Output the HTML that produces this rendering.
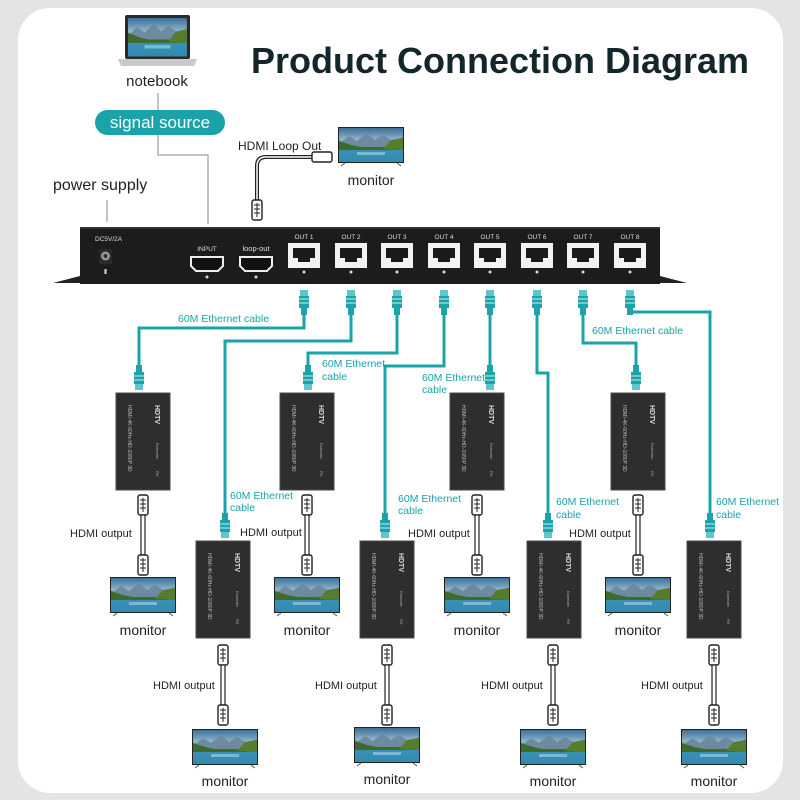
<!DOCTYPE html>
<html><head><meta charset="utf-8"><style>
html,body{margin:0;padding:0;background:#e4e4e4;}
svg{display:block;}
text{font-family:"Liberation Sans","DejaVu Sans",sans-serif;}
</style></head><body>
<svg width="800" height="800" viewBox="0 0 800 800" xmlns="http://www.w3.org/2000/svg">
<defs>
 <linearGradient id="sky" x1="0" y1="0" x2="0" y2="1">
  <stop offset="0" stop-color="#3f6f94"/><stop offset="0.35" stop-color="#8fb6cf"/>
  <stop offset="0.55" stop-color="#4f7a35"/><stop offset="0.7" stop-color="#2f8bb0"/><stop offset="1" stop-color="#1d5f86"/>
 </linearGradient>
 <g id="scr">
  <rect x="0" y="0" width="64" height="34" fill="url(#sky)"/>
  <polygon points="0,16 10,8 18,13 28,5 36,12 44,7 54,13 64,9 64,20 0,20" fill="#6e8a9e"/>
  <polygon points="0,20 0,13 12,17 22,19 64,19 64,22 0,22" fill="#3f6b2a"/>
  <polygon points="44,21 52,12 64,10 64,22" fill="#577d2c"/>
  <rect x="0" y="22" width="64" height="12" fill="#3b92b8" opacity="0.8"/>
  <rect x="18" y="24" width="28" height="3" fill="#9ccbe0" opacity="0.7"/>
 </g>
 <g id="mon">
  <rect x="-1" y="-1" width="66" height="36" fill="#222"/>
  <use href="#scr"/>
  <line x1="6" y1="35" x2="2" y2="38" stroke="#555" stroke-width="1"/>
  <line x1="58" y1="35" x2="62" y2="38" stroke="#555" stroke-width="1"/>
 </g>
 <g id="box">
  <rect x="0" y="0" width="54" height="97" fill="#2e2e2e" stroke="#4a4a4a"/>
  <text transform="translate(12,12) rotate(90)" font-size="5" fill="#bbb">HDMI-4K-60Hz-HD-1080P 3D</text>
  <text transform="translate(39,12) rotate(90)" font-size="7" font-weight="bold" fill="#ddd">HDTV</text>
  <text transform="translate(40,50) rotate(90)" font-size="4" fill="#aaa">Extender</text>
  <text transform="translate(40,78) rotate(90)" font-size="4" fill="#aaa">RX</text>
 </g>
 <g id="hconn">
  <rect x="-5" y="0" width="10" height="20" rx="2" fill="#fff" stroke="#222" stroke-width="1.4"/>
  <line x1="-3" y1="5" x2="3" y2="5" stroke="#222"/><line x1="-3" y1="9" x2="3" y2="9" stroke="#222"/>
  <line x1="-3" y1="13" x2="3" y2="13" stroke="#222"/><line x1="0" y1="3" x2="0" y2="17" stroke="#222"/>
 </g>
 <g id="hcable">
  <use href="#hconn" y="0"/>
  <rect x="-2" y="20" width="4" height="40" fill="#fff" stroke="#222" stroke-width="1.2"/>
  <use href="#hconn" y="60"/>
 </g>
 <g id="rj">
  <rect x="-4" y="0" width="8" height="6" fill="#5ac8cc"/>
  <rect x="-5" y="6" width="10" height="12" fill="#1aa3a8"/>
  <line x1="-5" y1="9" x2="5" y2="9" stroke="#fff" stroke-width="0.8"/>
  <line x1="-5" y1="13" x2="5" y2="13" stroke="#fff" stroke-width="0.8"/>
  <rect x="-3" y="18" width="6" height="7" fill="#1aa3a8"/>
 </g>
 <g id="rjup">
  <rect x="-3" y="0" width="6" height="7" fill="#1aa3a8"/>
  <rect x="-5" y="7" width="10" height="12" fill="#1aa3a8"/>
  <line x1="-5" y1="11" x2="5" y2="11" stroke="#fff" stroke-width="0.8"/>
  <line x1="-5" y1="15" x2="5" y2="15" stroke="#fff" stroke-width="0.8"/>
  <rect x="-4" y="19" width="8" height="6" fill="#5ac8cc"/>
 </g>
 <g id="port">
  <rect x="-16" y="0" width="32" height="25" fill="#f2f2f2"/>
  <path d="M-11,5 H11 V15 H6 V19 H-6 V15 H-11 Z" fill="#1a1a1a"/>
  <circle cx="0" cy="29" r="1.5" fill="#ddd"/>
 </g>
 <g id="hport">
  <path d="M-16,0 H16 V9 L11,14 H-11 L-16,9 Z" fill="#111" stroke="#eee" stroke-width="2"/>
  <circle cx="0" cy="20" r="1.5" fill="#ddd"/>
 </g>
</defs>

<rect x="18" y="8" width="765" height="785" rx="32" fill="#fff"/>

<text x="500" y="73" text-anchor="middle" font-size="36" font-weight="bold" fill="#13262a">Product Connection Diagram</text>

<!-- notebook -->
<rect x="125" y="15" width="65" height="44" rx="2" fill="#2a2a2a"/>
<use href="#scr" transform="translate(128,18) scale(0.92,1.13)"/>
<path d="M118,59 H197 L194,66 H121 Z" fill="#c9c9c9"/>
<text x="157" y="86" text-anchor="middle" font-size="15" fill="#222">notebook</text>
<line x1="158" y1="93" x2="158" y2="110" stroke="#888" stroke-width="1"/>
<rect x="95" y="110" width="130" height="25" rx="12.5" fill="#1aa3a8"/>
<text x="160" y="128" text-anchor="middle" font-size="17" fill="#fff">signal source</text>
<polyline points="158,135 158,155 208,155 208,224" fill="none" stroke="#888" stroke-width="1"/>
<text x="53" y="190" font-size="16" fill="#222">power supply</text>
<line x1="107" y1="200" x2="107" y2="222" stroke="#888" stroke-width="1"/>

<!-- loop out -->
<text x="238" y="150" font-size="12" fill="#222">HDMI Loop Out</text>
<path d="M312,157 H266 Q257,157 257,166 V200" fill="none" stroke="#222" stroke-width="4"/>
<path d="M312,157 H266 Q257,157 257,166 V200" fill="none" stroke="#fff" stroke-width="1.5"/>
<rect x="312" y="152" width="20" height="10" rx="2" fill="#fff" stroke="#222" stroke-width="1.4"/>
<use href="#hconn" x="257" y="200"/>
<use href="#mon" x="339" y="128"/>
<text x="371" y="185" text-anchor="middle" font-size="14" fill="#222">monitor</text>

<!-- splitter -->
<path d="M53,283 L80,276 V283 Z M660,276 L687,283 H660 Z" fill="#222"/>
<rect x="80" y="227" width="580" height="57" fill="#1c1c1e"/>
<rect x="80" y="227" width="580" height="2" fill="#333"/>
<text x="95" y="241" font-size="6.5" fill="#ddd">DC5V/2A</text>
<rect x="99" y="249" width="13" height="15" fill="#2a2a2a"/>
<circle cx="105.5" cy="256" r="4.5" fill="#999"/><circle cx="105.5" cy="256" r="2" fill="#333"/>
<rect x="104.5" y="269" width="2" height="5" fill="#ddd"/>
<text x="207" y="251" text-anchor="middle" font-size="6.5" fill="#ddd">INPUT</text>
<use href="#hport" x="207" y="257"/>
<text x="256" y="251" text-anchor="middle" font-size="7.5" fill="#ddd">loop-out</text>
<use href="#hport" x="256" y="257"/>
<g font-size="6.5" fill="#ddd" text-anchor="middle">
<text x="304" y="239">OUT 1</text><text x="351" y="239">OUT 2</text><text x="397" y="239">OUT 3</text><text x="444" y="239">OUT 4</text>
<text x="490" y="239">OUT 5</text><text x="537" y="239">OUT 6</text><text x="583" y="239">OUT 7</text><text x="630" y="239">OUT 8</text>
</g>
<use href="#port" x="304" y="243"/><use href="#port" x="351" y="243"/><use href="#port" x="397" y="243"/><use href="#port" x="444" y="243"/>
<use href="#port" x="490" y="243"/><use href="#port" x="537" y="243"/><use href="#port" x="583" y="243"/><use href="#port" x="630" y="243"/>

<!-- cables -->
<g fill="none" stroke="#1aa3a8" stroke-width="3">
<polyline points="304,312 304,328 139,328 139,365"/>
<polyline points="351,312 351,341 225,341 225,513"/>
<polyline points="397,312 397,353 308,353 308,365"/>
<polyline points="444,312 444,366 385,366 385,513"/>
<polyline points="490,312 490,365"/>
<polyline points="537,312 537,373 548,373 548,513"/>
<polyline points="583,312 583,343 636,343 636,365"/>
<polyline points="630,312 630,312 710,312 710,513"/>
</g>
<g>
<use href="#rj" x="304" y="290"/><use href="#rj" x="351" y="290"/><use href="#rj" x="397" y="290"/><use href="#rj" x="444" y="290"/>
<use href="#rj" x="490" y="290"/><use href="#rj" x="537" y="290"/><use href="#rj" x="583" y="290"/><use href="#rj" x="630" y="290"/>
<use href="#rjup" x="139" y="365"/><use href="#rjup" x="308" y="365"/><use href="#rjup" x="490" y="365"/><use href="#rjup" x="636" y="365"/>
<use href="#rjup" x="225" y="513"/><use href="#rjup" x="385" y="513"/><use href="#rjup" x="548" y="513"/><use href="#rjup" x="710" y="513"/>
</g>
<g font-size="10.5" fill="#1aa3a8">
<text x="178" y="322">60M Ethernet cable</text>
<text x="592" y="334">60M Ethernet cable</text>
<text x="322" y="367">60M Ethernet</text><text x="322" y="380">cable</text>
<text x="422" y="381">60M Ethernet</text><text x="422" y="393">cable</text>
<text x="230" y="499">60M Ethernet</text><text x="230" y="511">cable</text>
<text x="398" y="502">60M Ethernet</text><text x="398" y="514">cable</text>
<text x="556" y="505">60M Ethernet</text><text x="556" y="518">cable</text>
<text x="716" y="505">60M Ethernet</text><text x="716" y="518">cable</text>
</g>

<!-- upper receivers -->
<use href="#box" x="116" y="393"/><use href="#box" x="280" y="393"/><use href="#box" x="450" y="393"/><use href="#box" x="611" y="393"/>
<use href="#hcable" x="143" y="495"/><use href="#hcable" x="307" y="495"/><use href="#hcable" x="477" y="495"/><use href="#hcable" x="638" y="495"/>
<g font-size="11" fill="#222">
<text x="70" y="537">HDMI output</text><text x="240" y="536">HDMI output</text><text x="408" y="537">HDMI output</text><text x="569" y="537">HDMI output</text>
</g>
<use href="#mon" x="111" y="578"/><use href="#mon" x="275" y="578"/><use href="#mon" x="445" y="578"/><use href="#mon" x="606" y="578"/>
<g font-size="14" fill="#222" text-anchor="middle">
<text x="143" y="635">monitor</text><text x="307" y="635">monitor</text><text x="477" y="635">monitor</text><text x="638" y="635">monitor</text>
</g>

<!-- lower receivers -->
<use href="#box" x="196" y="541"/><use href="#box" x="360" y="541"/><use href="#box" x="527" y="541"/><use href="#box" x="687" y="541"/>
<use href="#hcable" x="223" y="645"/><use href="#hcable" x="387" y="645"/><use href="#hcable" x="553" y="645"/><use href="#hcable" x="714" y="645"/>
<g font-size="11" fill="#222">
<text x="153" y="689">HDMI output</text><text x="315" y="689">HDMI output</text><text x="481" y="689">HDMI output</text><text x="641" y="689">HDMI output</text>
</g>
<use href="#mon" x="193" y="730"/><use href="#mon" x="355" y="728"/><use href="#mon" x="521" y="730"/><use href="#mon" x="682" y="730"/>
<g font-size="14" fill="#222" text-anchor="middle">
<text x="225" y="786">monitor</text><text x="387" y="784">monitor</text><text x="553" y="786">monitor</text><text x="714" y="786">monitor</text>
</g>
</svg>
</body></html>
